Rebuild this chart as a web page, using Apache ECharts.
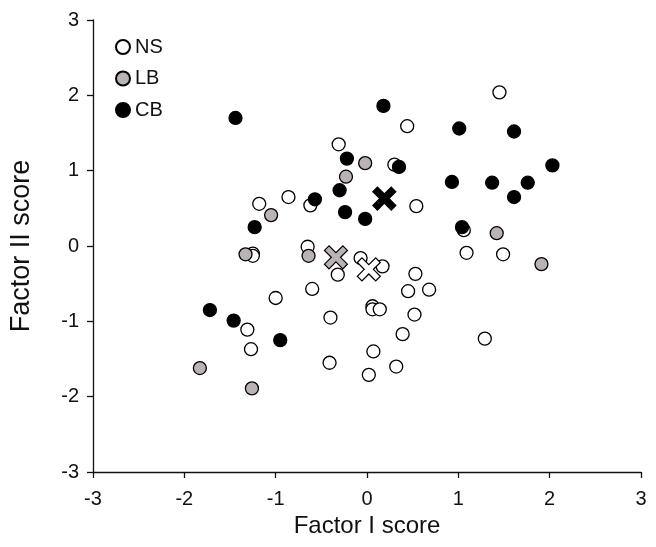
<!DOCTYPE html>
<html>
<head>
<meta charset="utf-8">
<script src="https://cdn.jsdelivr.net/npm/echarts@6/dist/echarts.min.js"></script>
<style>html,body{margin:0;padding:0;background:#fff}#c{width:656px;height:547px}</style>
</head>
<body>
<div id="c"></div>
<script>
var xTicks = [-3, -2, -1, 0, 1, 2, 3];
var yTicks = [-3, -2, -1, 0, 1, 2, 3];
var nsPoints = [[1.45,2.04],[-0.31,1.35],[0.44,1.59],[0.30,1.08],[-0.86,0.65],[-0.62,0.54],[-1.18,0.56],[0.54,0.53],[1.06,0.21],[1.09,-0.09],[1.49,-0.11],[-1.25,-0.10],[-1.25,-0.13],[-0.65,-0.01],[-0.07,-0.16],[-0.32,-0.38],[0.17,-0.27],[0.53,-0.37],[0.45,-0.60],[0.68,-0.58],[-0.60,-0.57],[-1.00,-0.69],[-0.40,-0.95],[0.06,-0.80],[0.06,-0.84],[0.14,-0.84],[0.52,-0.91],[0.39,-1.17],[1.29,-1.23],[-1.31,-1.11],[-1.27,-1.37],[-0.41,-1.55],[0.07,-1.40],[0.32,-1.60],[0.02,-1.71]];
var lbPoints = [[-0.02,1.10],[-0.23,0.92],[-1.05,0.41],[1.42,0.17],[-1.33,-0.11],[-0.64,-0.13],[1.91,-0.24],[-1.83,-1.62],[-1.26,-1.89]];
var cbPoints = [[-1.44,1.70],[0.18,1.86],[1.01,1.56],[1.61,1.52],[-0.22,1.16],[0.35,1.05],[2.03,1.07],[-0.30,0.74],[0.93,0.85],[1.37,0.84],[1.76,0.84],[1.61,0.65],[-0.57,0.62],[-0.24,0.45],[-0.02,0.36],[-1.23,0.25],[1.04,0.25],[-1.72,-0.85],[-1.46,-0.99],[-0.95,-1.25]];
var nsMean = [[0.02,-0.31]];
var lbMean = [[-0.34,-0.15]];
var cbMean = [[0.19,0.63]];

var FONT = 'Liberation Sans, Arial, sans-serif';
var GREY = '#bab3b3';
var crossPath = 'path://M0,2 L2,0 L5,3 L8,0 L10,2 L7,5 L10,8 L8,10 L5,7 L2,10 L0,8 L3,5 Z';

function dotSeries(name, data, fill) {
  return {
    name: name, type: 'scatter', data: data, symbol: 'circle', symbolSize: 13,
    itemStyle: { color: fill, borderColor: '#000', borderWidth: 1.3, opacity: 1 },
    emphasis: { disabled: true }, z: 3
  };
}
function meanSeries(name, data, fill) {
  return {
    name: name, type: 'scatter', data: data, symbol: crossPath, symbolSize: 23,
    itemStyle: { color: fill, borderColor: '#000', borderWidth: 1.2, opacity: 1 },
    emphasis: { disabled: true }, z: 5
  };
}

var chart = echarts.init(document.getElementById('c'), null, { renderer: 'canvas' });
chart.setOption({
  animation: false,
  backgroundColor: '#fff',
  textStyle: { fontFamily: FONT, color: '#111' },
  grid: { left: 93, right: 15, top: 20, bottom: 75 },
  legend: {
    data: ['NS', 'LB', 'CB'], orient: 'vertical', left: 115, top: 37,
    padding: 0, itemWidth: 14, itemHeight: 14, itemGap: 11.5, icon: 'circle',
    textStyle: { fontSize: 20, color: '#111', fontFamily: FONT, lineHeight: 20 },
    selectedMode: false
  },
  xAxis: {
    type: 'value', min: -3, max: 3, interval: 1,
    name: 'Factor I score', nameLocation: 'middle', nameGap: 38,
    nameTextStyle: { fontSize: 24, color: '#111', fontFamily: FONT },
    axisLine: { onZero: false, lineStyle: { color: '#111', width: 1.3 } },
    axisTick: { show: true, inside: false, length: 6, lineStyle: { color: '#111', width: 1.3 } },
    axisLabel: { fontSize: 20, color: '#111', margin: 17, fontFamily: FONT,
      formatter: function (v) { return xTicks.indexOf(v) >= 0 ? String(v) : ''; } },
    splitLine: { show: false }
  },
  yAxis: {
    type: 'value', min: -3, max: 3, interval: 1,
    name: 'Factor II score', nameLocation: 'middle', nameGap: 58, nameRotate: 90,
    nameTextStyle: { fontSize: 27, color: '#111', fontFamily: FONT },
    axisLine: { onZero: false, lineStyle: { color: '#111', width: 1.3 } },
    axisTick: { show: true, inside: false, length: 6, lineStyle: { color: '#111', width: 1.3 } },
    axisLabel: { fontSize: 20, color: '#111', margin: 14, fontFamily: FONT,
      formatter: function (v) { return yTicks.indexOf(v) >= 0 ? String(v) : ''; } },
    splitLine: { show: false }
  },
  series: [
    dotSeries('NS', nsPoints, '#fff'),
    dotSeries('LB', lbPoints, GREY),
    dotSeries('CB', cbPoints, '#000'),
    meanSeries('LB mean', lbMean, GREY),
    meanSeries('NS mean', nsMean, '#fff'),
    meanSeries('CB mean', cbMean, '#000')
  ]
});
</script>
</body>
</html>
